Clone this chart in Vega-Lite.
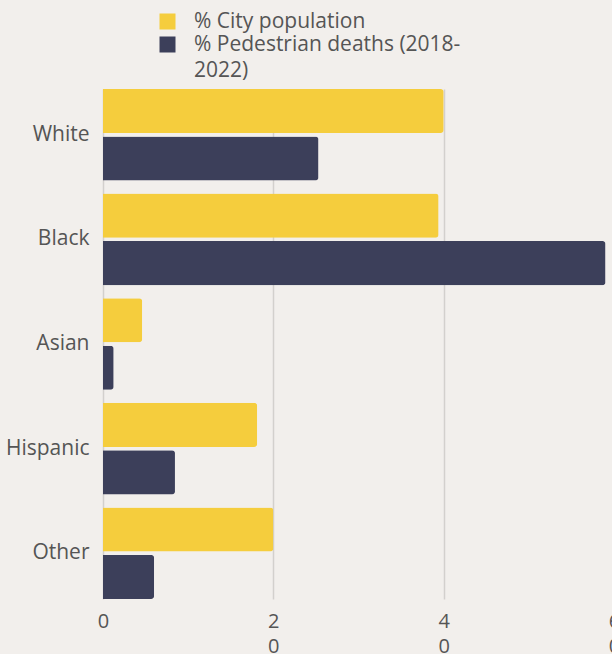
{
  "$schema": "https://vega.github.io/schema/vega-lite/v6.json",
  "width": 511,
  "height": 510,
  "autosize": "none",
  "padding": {"left": 103, "top": 89, "right": 0, "bottom": 55},
  "background": "#F2EFEC",
  "config": {"view": {"stroke": null}, "font": "Open Sans"},
  "data": {
    "values": [
      {"group": "White ", "series": "% City population", "value": 40.0},
      {"group": "White ", "series": "% Pedestrian deaths (2018-2022)", "value": 25.3},
      {"group": "Black", "series": "% City population", "value": 39.4},
      {"group": "Black", "series": "% Pedestrian deaths (2018-2022)", "value": 59.0},
      {"group": "Asian", "series": "% City population", "value": 4.6},
      {"group": "Asian", "series": "% Pedestrian deaths (2018-2022)", "value": 1.25},
      {"group": "Hispanic", "series": "% City population", "value": 18.1},
      {"group": "Hispanic", "series": "% Pedestrian deaths (2018-2022)", "value": 8.45},
      {"group": "Other", "series": "% City population", "value": 20.0},
      {"group": "Other", "series": "% Pedestrian deaths (2018-2022)", "value": 6.0}
    ]
  },
  "mark": {"type": "bar", "cornerRadiusEnd": 3},
  "encoding": {
    "y": {
      "field": "group",
      "type": "nominal",
      "sort": ["White ", "Black", "Asian", "Hispanic", "Other"],
      "scale": {"paddingInner": 0.125, "paddingOuter": 0},
      "axis": {
        "title": null,
        "domain": false,
        "ticks": false,
        "labelPadding": 14,
        "labelFontSize": 21,
        "labelColor": "#555555"
      }
    },
    "yOffset": {
      "field": "series",
      "type": "nominal",
      "sort": ["% City population", "% Pedestrian deaths (2018-2022)"],
      "scale": {"paddingInner": 0.07}
    },
    "x": {
      "field": "value",
      "type": "quantitative",
      "scale": {"domain": [0, 60]},
      "axis": {
        "title": null,
        "values": [0, 20, 40, 60],
        "domain": false,
        "ticks": false,
        "grid": true,
        "gridColor": "#d3d0cd",
        "gridWidth": 1.5,
        "labelFontSize": 20,
        "labelColor": "#555555",
        "labelPadding": 12,
        "labelLineHeight": 25,
        "labelFlush": false,
        "labelExpr": "length(datum.label) > 1 ? [substring(datum.label, 0, 1), substring(datum.label, 1)] : datum.label"
      }
    },
    "color": {
      "field": "series",
      "type": "nominal",
      "scale": {
        "domain": ["% City population", "% Pedestrian deaths (2018-2022)"],
        "range": ["#F5CD3D", "#3C3F5A"]
      },
      "legend": {
        "orient": "none",
        "legendX": 54,
        "legendY": -78,
        "title": null,
        "padding": 0,
        "symbolType": "square",
        "symbolSize": 256,
        "symbolOpacity": 1,
        "symbolStrokeWidth": 0,
        "labelFontSize": 21,
        "labelColor": "#555555",
        "labelOffset": 16,
        "labelLimit": 400,
        "rowPadding": 1,
        "labelExpr": "datum.label == '% Pedestrian deaths (2018-2022)' ? ['% Pedestrian deaths (2018-', '2022)'] : datum.label",
        "encode": {"labels": {"update": {"lineHeight": {"value": 26}}}}
      }
    }
  }
}
